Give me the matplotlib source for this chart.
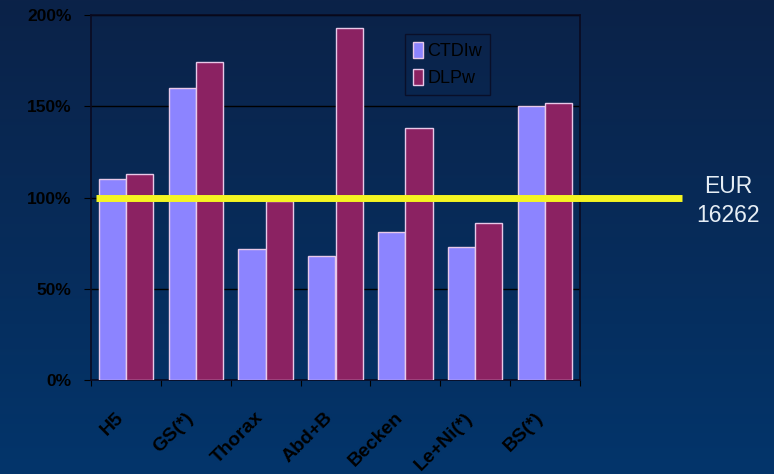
import numpy as np
import matplotlib
matplotlib.use("Agg")
import matplotlib.pyplot as plt
import matplotlib.transforms as mtransforms

categories = ["H5", "GS(*)", "Thorax", "Abd+B", "Becken", "Le+Ni(*)", "BS(*)"]
ctdi_w = [110, 160, 72, 68, 81, 73, 150]
dlp_w = [113, 174, 98, 193, 138, 86, 152]
yticks = [0, 50, 100, 150, 200]
ref_level = 100
ref_label = "EUR\n16262"

plt.rcParams['font.family'] = ['Liberation Sans', 'DejaVu Sans']

fig = plt.figure(figsize=(7.74, 4.74), dpi=100)

# background gradient
bg = fig.add_axes([0, 0, 1, 1], zorder=-10)
grad = np.linspace(0, 1, 256).reshape(-1, 1)
top = np.array([0x0b, 0x22, 0x48]) / 255
bot = np.array([0x03, 0x35, 0x6b]) / 255
img = top + (bot - top) * grad[..., None]
img = np.repeat(img, 2, axis=1)
bg.imshow(img, aspect='auto', extent=[0, 1, 0, 1], origin='upper')
bg.set_axis_off()

ax = fig.add_axes([91/774, 1-380/474, (580-91)/774, (380-15)/474])
ax.set_facecolor('none')

x = np.arange(len(categories))
w = 0.39
edge = '#e8c8e8'
ax.bar(x - w/2, ctdi_w, w, color='#8c84ff', edgecolor=edge, linewidth=1.0, label='CTDIw', zorder=3)
ax.bar(x + w/2, dlp_w, w, color='#8b2262', edgecolor=edge, linewidth=1.0, label='DLPw', zorder=3)

ax.set_xlim(-0.5, len(categories) - 0.5)
ax.set_ylim(0, 200)
ax.set_yticks(yticks)
ax.set_yticklabels([f"{v}%" for v in yticks], fontsize=12.5, fontweight='bold', color='black')
ax.grid(axis='y', color='black', linewidth=1.0, zorder=1)

ax.set_xticks(np.arange(len(categories) + 1) - 0.5, minor=False)
ax.set_xticklabels([])
ax.set_xticks(x, minor=True)
ax.set_xticklabels(categories, minor=True, rotation=45, ha='right', rotation_mode='anchor',
                   fontsize=14, fontweight='bold', color='black')
ax.tick_params(axis='x', which='minor', length=0, pad=21)
ax.tick_params(axis='x', which='major', length=4, color='black', direction='out')
ax.tick_params(axis='y', length=5, color='black', pad=9)
shift = mtransforms.ScaledTranslation(-11/100, 0, fig.dpi_scale_trans)
for lbl in ax.get_xticklabels(minor=True):
    lbl.set_transform(lbl.get_transform() + shift)
for s in ax.spines.values():
    s.set_color('#0a0a20')
    s.set_linewidth(1.2)

# reference line extending beyond the axes
trans = mtransforms.blended_transform_factory(ax.transAxes, ax.transData)
ax.plot([0.01, 1.209], [ref_level, ref_level], transform=trans, color='#f5f522',
        linewidth=5, clip_on=False, zorder=5, solid_capstyle='butt')
fig.text(728/774, 1-201/474, ref_label, ha='center', va='center', fontsize=16.5,
         color='#e6eef5', linespacing=1.3)

leg = ax.legend(loc='upper left', bbox_to_anchor=((405-91)/489, 1-(34-15)/365),
                fontsize=13, frameon=True, handlelength=0.55, handleheight=1.0,
                handletextpad=0.25, borderpad=0.45, labelspacing=0.45, borderaxespad=0)
leg.get_frame().set_facecolor('none')
leg.get_frame().set_edgecolor('#0a0a20')
leg.get_frame().set_boxstyle('square', pad=0)
for t in leg.get_texts():
    t.set_color('black')

fig.savefig('out.png', dpi=100)
